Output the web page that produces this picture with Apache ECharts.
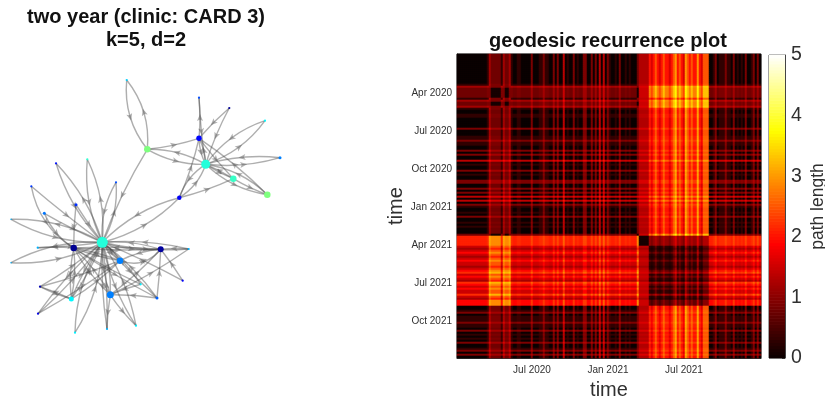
<!DOCTYPE html>
<html><head><meta charset="utf-8">
<style>html,body{margin:0;padding:0;background:#fff}#c{width:825px;height:403px}</style>
<script src="https://cdn.jsdelivr.net/npm/echarts@6/dist/echarts.min.js"></script>
</head><body><div id="c"></div>
<script>
// ---- recurrence plot data: state of the patient per time bin (2 years, 152 bins)
const stateByBin = (
  'aaaaaaaaaaaaaaa' + 'bfeeeeebfeefb' + 'aabbaaaaacaaabbcbbaacacaad' + 'abaacabaaccaacacadadac' +
  'baabacaababaaa' + 'eggggg' + 'hkhihkhihhkhijhihkjihihhjhkiii' +
  'aabcabbbcbbacababacaabcaca').split('');
const stateKinds = ['a','b','c','d','e','f','g','h','i','j','k'];
// path length from the row's state to the column's state
const pathLength = [
 [0.0,0.3,0.9,1.4,0.8,1.2,1.3,2.0,2.5,3.0,1.6],
 [0.3,0.4,1.0,1.4,0.9,1.3,1.4,2.1,2.6,3.1,1.8],
 [0.9,1.0,1.3,1.7,1.2,1.6,1.6,2.3,2.7,3.2,1.9],
 [1.4,1.5,1.7,2.0,1.6,1.9,1.8,2.6,3.0,3.4,2.2],
 [0.8,0.9,1.2,1.5,0.1,0.9,1.5,2.8,3.3,3.7,2.4],
 [1.2,1.3,1.5,1.8,0.9,1.2,1.6,2.9,3.4,3.8,2.5],
 [2.1,2.2,2.4,2.6,2.9,3.1,0.1,1.1,1.3,1.6,0.9],
 [1.5,1.6,1.9,2.2,2.5,2.8,1.4,0.3,0.7,1.2,0.2],
 [1.9,2.0,2.3,2.6,2.9,3.1,1.5,0.7,1.0,1.4,0.5],
 [2.2,2.3,2.6,2.9,3.2,3.4,1.6,1.1,1.4,1.7,0.9],
 [1.2,1.3,1.6,1.9,2.1,2.5,1.2,0.2,0.5,0.9,0.1]
];
const xTickBins = {37:'Jul 2020',75:'Jan 2021',113:'Jul 2021'};
const yTickBins = {19:'Apr 2020',38:'Jul 2020',57:'Oct 2020',76:'Jan 2021',95:'Apr 2021',114:'Jul 2021',133:'Oct 2021'};
const hotStops = ['#0a0000','#5a0000','#aa0000','#ff0000','#ff5500','#ffaa00','#ffff00','#ffff80','#ffffff'];
const jetStops = ['#00007f','#0000ff','#0080ff','#00ffff','#7fff7f','#ffff00','#ff8000','#ff0000','#7f0000'];

// ---- network data
const nodeX = [102.3,73.7,160.7,120,110.3,71.3,157,182.7,188.7,140.7,136,107,75,38,40,11,37.7,11,44.3,31.3,56,76,87.3,116,147.3,126.7,179.3,205.7,199,199,229.3,265,280,233.3,267.3];
const nodeY = [242.3,248,249.3,260.7,294.8,299,298,280.7,249,284.3,325.7,329,332.7,313.7,286.7,262.7,247.7,219.3,213.3,186.3,163.3,204.7,159.3,182.3,149.3,80,197.7,164.3,138.3,97.7,108,120.7,157.7,178.7,194.7];
const nodeValue = [0.41,0.02,0.03,0.25,0.25,0.37,0.22,0.12,0.3,0.36,0.36,0.3,0.36,0.1,0.05,0.3,0.3,0.3,0.24,0.18,0.14,0.17,0.42,0.2,0.5,0.33,0.12,0.41,0.13,0.2,0.03,0.37,0.25,0.43,0.5];
const nodeWeight = [11,6.5,6,6.5,7,5,3,2.2,2.2,2.2,2.2,2.2,2.2,2.2,2.2,1.5,2.2,1.5,3,2.2,2.2,3,2.2,2.2,6.5,2.2,4.5,9,5.5,2.2,2.2,2.2,3,6.5,6.5];
const edgeFrom = [17,0,15,0,20,0,22,0,23,0,26,0,19,19,18,18,21,21,16,1,24,8,0,8,7,7,2,0,3,0,3,2,4,0,4,1,6,9,5,0,5,1,6,0,6,9,0,10,4,0,11,4,12,0,13,0,14,14,5,
  24,25,24,24,27,26,27,26,26,27,28,29,28,30,30,27,31,27,32,27,33,27,34,34,33,1,3,
  1,2,1,5,13,14,4,1,4,28];
const edgeTo = [0,17,0,15,0,20,0,22,0,23,0,26,0,1,0,1,0,1,0,16,0,0,8,2,0,2,0,2,0,3,2,3,0,4,1,4,0,0,0,5,1,5,2,6,4,4,10,0,10,11,0,11,0,12,0,13,0,5,14,
  25,24,28,27,24,27,26,33,28,28,27,27,29,28,27,31,27,32,27,33,27,34,27,28,34,3,1,
  2,1,6,3,3,3,2,9,8,33];
const edgeBend = [.14,.14,.14,.14,.12,.12,.14,.14,.16,.16,.14,.14,.02,.22,.03,.16,.03,.03,.03,.05,.05,.08,.08,.05,.03,.03,.1,.1,.1,.1,.35,.1,.1,.1,.08,.08,.08,.08,.06,.06,.08,.08,.02,.02,.04,.04,.1,.1,.05,.05,.04,.04,.14,.14,.06,.06,.05,.05,.03,
  .2,.2,.05,.14,.14,.18,.18,.05,.05,.12,.12,.03,.05,.04,.05,.16,.16,.1,.1,.05,.05,.16,.16,.05,.05,.05,.05,
  .03,.03,.03,.06,.03,.03,.05,.03,.04,.03];

// ---- derived, library-ready tables
const heat = [];
const idx = stateByBin.map(s => stateKinds.indexOf(s));
idx.forEach((r, y) => idx.forEach((c, x) => heat.push([x, y, pathLength[r][c]])));
const binCats = stateByBin.map((_, i) => String(i));
const barLevels = Array.from({length:100}, (_, i) => [0, (i + .5) * 5 / 100, 5 / 100]);
const edges = edgeFrom.map((f, i) => [nodeX[f], nodeY[f], nodeX[edgeTo[i]], nodeY[edgeTo[i]], edgeBend[i]]);
const nodes = nodeX.map((x, i) => [x, nodeY[i], nodeValue[i], nodeWeight[i]]);

function renderEdge(params, api) {
  const a = api.coord([api.value(0), api.value(1)]);
  const b = api.coord([api.value(2), api.value(3)]);
  const dx = b[0]-a[0], dy = b[1]-a[1], bend = api.value(4);
  const cx = (a[0]+b[0])/2 - dy*bend, cy = (a[1]+b[1])/2 + dx*bend;
  const mx = .25*a[0]+.5*cx+.25*b[0], my = .25*a[1]+.5*cy+.25*b[1];
  const L = Math.hypot(dx,dy)||1, ux = dx/L, uy = dy/L;
  return {type:'group', children:[
    {type:'bezierCurve', shape:{x1:a[0],y1:a[1],x2:b[0],y2:b[1],cpx1:cx,cpy1:cy},
     style:{fill:null, stroke:'rgba(70,70,70,0.44)', lineWidth:1.4}},
    {type:'polygon', shape:{points:[[mx+ux*4,my+uy*4],[mx-ux*3-uy*3,my-uy*3+ux*3],[mx-ux*1.4,my-uy*1.4],[mx-ux*3+uy*3,my-uy*3-ux*3]]},
     style:{fill:'rgba(100,100,100,0.5)'}}
  ]};
}
function renderBar(params, api) {
  const p0 = api.coord([0, api.value(1) - api.value(2)/2]);
  const p1 = api.coord([1, api.value(1) + api.value(2)/2]);
  return {type:'rect', shape:{x:p0[0], y:p1[1]-.3, width:p1[0]-p0[0], height:p0[1]-p1[1]+.6},
          style:{fill:api.visual('color')}};
}
const txt = '#303030', F = 'Liberation Sans';
const chart = echarts.init(document.getElementById('c'), null, {renderer:'canvas'});
chart.setOption({
  animation:false, backgroundColor:'#fff', textStyle:{fontFamily:F},
  title:[
    {text:'two year (clinic: CARD 3)\nk=5, d=2', left:141, top:1, textAlign:'center',
     textStyle:{fontFamily:F,fontSize:20,fontWeight:'bold',color:'#111',lineHeight:23}},
    {text:'geodesic recurrence plot', left:603, top:26, textAlign:'center',
     textStyle:{fontFamily:F,fontSize:20,fontWeight:'bold',color:'#111'}}
  ],
  grid:[
    {left:457, top:54, width:304, height:304, outerBoundsMode:'none', show:true, borderColor:'#333', borderWidth:1, backgroundColor:'transparent'},
    {left:769, top:55, width:16, height:303, outerBoundsMode:'none', show:true, borderColor:'#444', borderWidth:1, backgroundColor:'transparent'},
    {left:0, top:0, width:300, height:403, outerBoundsMode:'none'}
  ],
  xAxis:[
    {type:'category', gridIndex:0, data:binCats, name:'time', nameLocation:'middle', nameGap:22,
     nameTextStyle:{fontSize:20,color:txt,fontFamily:F},
     axisLine:{lineStyle:{color:'#333'}}, splitLine:{show:false},
     axisTick:{inside:true,length:3,alignWithLabel:true,interval:i=>i in xTickBins,lineStyle:{color:'#333'}},
     axisLabel:{interval:i=>i in xTickBins,formatter:v=>xTickBins[v]||'',fontSize:10,color:txt,margin:7,fontFamily:F,hideOverlap:false}},
    {type:'value', gridIndex:1, min:0, max:1, show:false},
    {type:'value', gridIndex:2, min:0, max:300, show:false}
  ],
  yAxis:[
    {type:'category', gridIndex:0, inverse:true, data:binCats, name:'time', nameLocation:'middle', nameGap:50,
     nameTextStyle:{fontSize:20,color:txt,fontFamily:F},
     axisLine:{lineStyle:{color:'#333'}}, splitLine:{show:false},
     axisTick:{inside:true,length:3,alignWithLabel:true,interval:i=>i in yTickBins,lineStyle:{color:'#333'}},
     axisLabel:{interval:i=>i in yTickBins,formatter:v=>yTickBins[v]||'',fontSize:10,color:txt,margin:5,fontFamily:F,hideOverlap:false}},
    {type:'value', gridIndex:1, position:'right', min:0, max:5, interval:1, name:'path length', nameLocation:'middle', nameGap:24, nameRotate:90,
     nameTextStyle:{fontSize:17.5,color:txt,fontFamily:F},
     axisLine:{show:true,onZero:false,lineStyle:{color:'#444'}}, splitLine:{show:false},
     axisTick:{show:true,inside:true,length:3,lineStyle:{color:'#444'}},
     axisLabel:{fontSize:19.5,color:txt,margin:6,padding:[3,0,0,0],fontFamily:F,showMinLabel:true,showMaxLabel:true}},
    {type:'value', gridIndex:2, inverse:true, min:0, max:403, show:false}
  ],
  visualMap:[
    {show:false, type:'continuous', min:0, max:5, seriesIndex:[0], dimension:2, inRange:{color:hotStops}},
    {show:false, type:'continuous', min:0, max:5, seriesIndex:[1], dimension:1, inRange:{color:hotStops}},
    {show:false, type:'continuous', min:0, max:1, seriesIndex:[3], dimension:2, inRange:{color:jetStops}}
  ],
  series:[
    {type:'heatmap', name:'recurrence', xAxisIndex:0, yAxisIndex:0, data:heat, progressive:0, silent:true, emphasis:{disabled:true}},
    {type:'custom', name:'colorbar', xAxisIndex:1, yAxisIndex:1, data:barLevels, renderItem:renderBar, encode:{x:0,y:1}, silent:true},
    {type:'custom', name:'edges', xAxisIndex:2, yAxisIndex:2, data:edges, renderItem:renderEdge, encode:{x:[0,2],y:[1,3]}, silent:true},
    {type:'scatter', name:'nodes', xAxisIndex:2, yAxisIndex:2, data:nodes, symbolSize:d=>d[3], itemStyle:{opacity:1}, silent:true, z:5}
  ]
});
</script></body></html>
